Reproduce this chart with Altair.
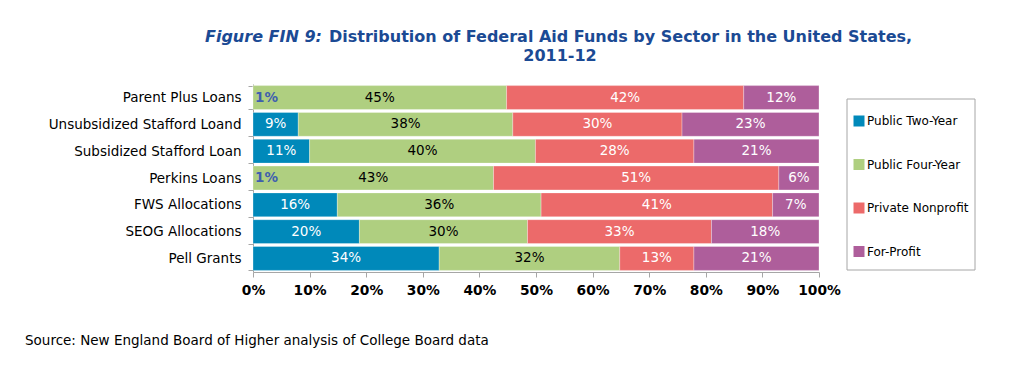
import altair as alt
import pandas as pd

categories = ["Parent Plus Loans", "Unsubsidized Stafford Loand", "Subsidized Stafford Loan",
              "Perkins Loans", "FWS Allocations", "SEOG Allocations", "Pell Grants"]
sectors = ["Public Two-Year", "Public Four-Year", "Private Nonprofit", "For-Profit"]
colors = ["#0089ba", "#afcf80", "#ec6a6a", "#ae5e9b"]

public_two = [0.0, 8.0, 10.0, 0.0, 14.9, 18.8, 32.9]
public_four = [44.8, 37.9, 39.9, 42.5, 36.0, 29.7, 31.9]
private_np = [41.9, 29.9, 28.0, 50.4, 40.9, 32.5, 13.1]
for_profit = [13.3, 24.2, 22.1, 7.1, 8.2, 19.0, 22.1]

lab_two = ["1%", "9%", "11%", "1%", "16%", "20%", "34%"]
lab_four = ["45%", "38%", "40%", "43%", "36%", "30%", "32%"]
lab_np = ["42%", "30%", "28%", "51%", "41%", "33%", "13%"]
lab_fp = ["12%", "23%", "21%", "6%", "7%", "18%", "21%"]

series = [public_two, public_four, private_np, for_profit]
labels = [lab_two, lab_four, lab_np, lab_fp]

rows = []
for i, cat in enumerate(categories):
    start = 0.0
    for j, sec in enumerate(sectors):
        v = series[j][i]
        rows.append({"category": cat, "sector": sec, "order": j, "start": start,
                     "end": start + v, "mid": start + v / 2, "label": labels[j][i],
                     "small": v < 3, "dark": j == 1})
        start += v
df = pd.DataFrame(rows)

FONT = "DejaVu Sans"

y_enc = alt.Y("category:N", sort=categories, title=None,
              scale=alt.Scale(paddingInner=0.11, paddingOuter=0.06),
              axis=alt.Axis(domainColor="#a6a6a6", tickColor="#a6a6a6", tickSize=5,
                            tickBand="extent", labelFontSize=13.5, labelPadding=7,
                            labelLimit=400, labelColor="#000000", labelFont=FONT))

bars = alt.Chart(df).mark_bar(stroke="white", strokeWidth=0.6, strokeOpacity=0.5).encode(
    x=alt.X("start:Q", scale=alt.Scale(domain=[0, 100], nice=False), title=None,
            axis=alt.Axis(values=list(range(0, 101, 10)), labelExpr="datum.value + '%'",
                          labelFontWeight="bold", labelFontSize=13.8, labelFont=FONT,
                          labelColor="#000000", tickSize=5, tickColor="#a6a6a6",
                          labelOverlap=False, labelFlush=False,
                          domainColor="#a6a6a6", grid=False, labelPadding=6)),
    x2="end:Q",
    y=y_enc,
    color=alt.Color("sector:N", scale=alt.Scale(domain=sectors, range=colors),
                    legend=alt.Legend(title=None, orient="none", legendX=600, legendY=31,
                                      symbolType="square", symbolSize=121, symbolStrokeWidth=0,
                                      labelFontSize=12, labelFont=FONT, labelColor="#000000",
                                      labelOffset=2, rowPadding=31.5, padding=0)),
    order="order:Q",
)

txt_base = alt.Chart(df).encode(y=alt.Y("category:N", sort=categories), text="label:N")

txt_white = txt_base.transform_filter("!datum.small && !datum.dark").mark_text(
    fontSize=13.5, font=FONT, color="white").encode(x="mid:Q")
txt_black = txt_base.transform_filter("!datum.small && datum.dark").mark_text(
    fontSize=13.5, font=FONT, color="black").encode(x="mid:Q")
txt_small = txt_base.transform_filter("datum.small").mark_text(
    fontSize=13.5, font=FONT, fontWeight="bold", color="#3f5fae", align="left", dx=2).encode(x="start:Q")

box_df = pd.DataFrame({"k": [0]})
legend_box = alt.Chart(box_df).mark_rect(fill=None, stroke="#a6a6a6", strokeWidth=1).encode(
    x=alt.value(594), x2=alt.value(722), y=alt.value(15), y2=alt.value(186))

TITLE_COLOR = "#1b4a94"
title_df = pd.DataFrame({"t": ["Figure FIN 9:"]})
t1 = alt.Chart(title_df).mark_text(fontSize=16, font=FONT, fontWeight="bold", fontStyle="italic",
                                   color=TITLE_COLOR, align="left", baseline="middle").encode(
    x=alt.value(-48), y=alt.value(-47), text="t:N")
title_df2 = pd.DataFrame({"t": ["Distribution of Federal Aid Funds by Sector in the United States,"]})
t2 = alt.Chart(title_df2).mark_text(fontSize=16, font=FONT, fontWeight="bold",
                                    color=TITLE_COLOR, align="left", baseline="middle").encode(
    x=alt.value(76), y=alt.value(-47), text="t:N")
title_df3 = pd.DataFrame({"t": ["2011-12"]})
t3 = alt.Chart(title_df3).mark_text(fontSize=16, font=FONT, fontWeight="bold",
                                    color=TITLE_COLOR, align="center", baseline="middle").encode(
    x=alt.value(307), y=alt.value(-28), text="t:N")
src_df = pd.DataFrame({"t": ["Source: New England Board of Higher analysis of College Board data"]})
src = alt.Chart(src_df).mark_text(fontSize=13.5, font=FONT, color="#000000", align="left",
                                  baseline="middle").encode(
    x=alt.value(-228), y=alt.value(257), text="t:N")

chart = alt.layer(bars, txt_white, txt_black, txt_small, legend_box, t1, t2, t3, src).properties(
    width=566, height=188,
    autosize=alt.AutoSizeParams(type="none"),
    padding={"left": 245, "top": 76, "right": 183, "bottom": 86},
    background="white",
).configure_view(stroke=None)

chart.save("out.html", embed_options={"renderer": "svg", "actions": False})
